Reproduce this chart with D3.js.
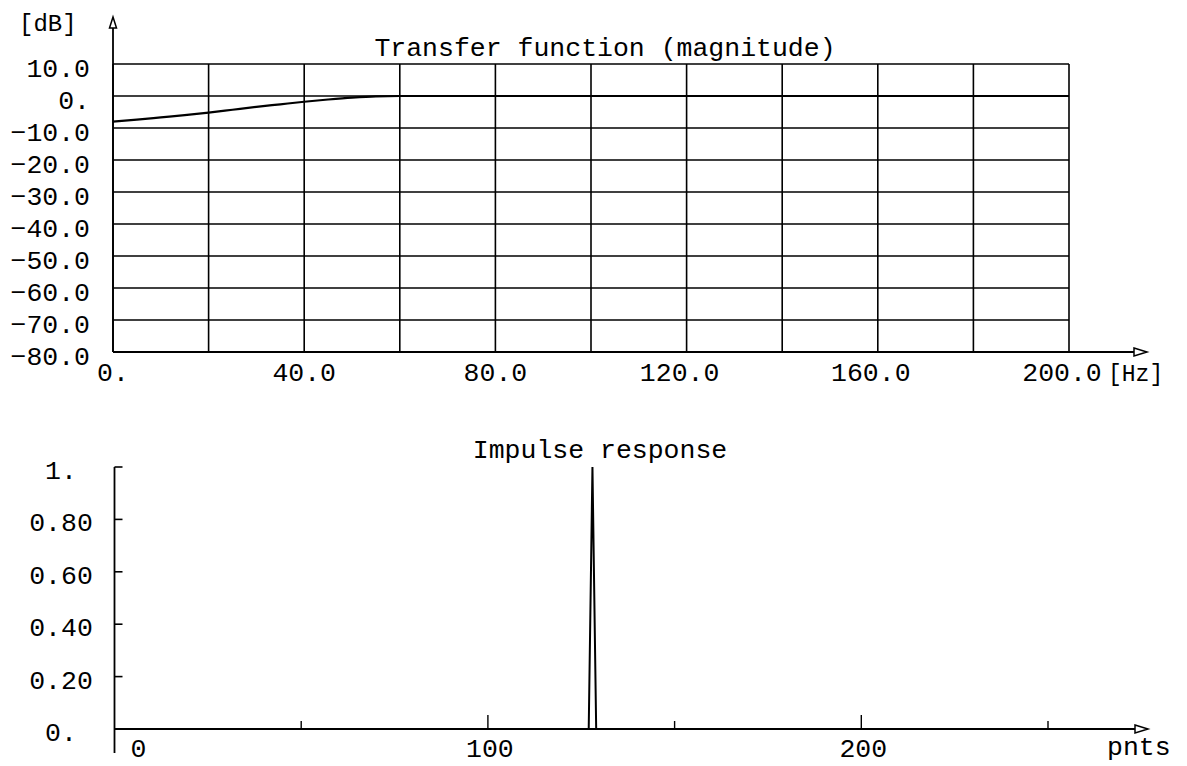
<!DOCTYPE html>
<html>
<head>
<meta charset="utf-8">
<script src="https://cdn.jsdelivr.net/npm/d3@7"></script>
<style>
  html, body { margin: 0; padding: 0; background: #fff; }
  svg { display: block; }
  text { font-family: "Liberation Mono", "DejaVu Sans Mono", monospace; fill: #000; }
</style>
</head>
<body>
<svg id="chart" width="1187" height="766"></svg>
<script>
// ---------- data: transfer function (magnitude) ----------
const freqHz = [0, 5, 10, 15, 20, 25, 30, 35, 40, 45, 50, 55, 60, 80, 100, 120, 140, 160, 180, 200];
const magDb  = [-8.0, -7.4, -6.7, -6.0, -5.2, -4.3, -3.4, -2.6, -1.8, -1.1, -0.5, -0.1, 0, 0, 0, 0, 0, 0, 0, 0];
const dbTicks  = [10, 0, -10, -20, -30, -40, -50, -60, -70, -80];
const dbLabels = ["10.0", "0.", "\u221210.0", "\u221220.0", "\u221230.0", "\u221240.0", "\u221250.0", "\u221260.0", "\u221270.0", "\u221280.0"];
const hzGrid   = [0, 20, 40, 60, 80, 100, 120, 140, 160, 180, 200];
const hzTicks  = [0, 40, 80, 120, 160, 200];
const hzLabels = ["0.", "40.0", "80.0", "120.0", "160.0", "200.0"];

// ---------- data: impulse response ----------
const sampleIdx   = [0, 127, 128, 129, 255];
const impulseVals = [0, 0, 1.0, 0, 0];
const ampTicks  = [0, 0.2, 0.4, 0.6, 0.8, 1.0];
const ampLabels = ["0.", "0.20", "0.40", "0.60", "0.80", "1."];
const pntTicks  = [50, 100, 150, 200, 250];
const pntMajor  = [100, 200];
const pntLabelTicks = [0, 100, 200];
const pntLabels = ["0", "100", "200"];

const svg = d3.select("#chart");
const FS = 26.5;

// ================= TOP CHART =================
const xT = d3.scaleLinear().domain([0, 200]).range([113, 1069]);
const yT = d3.scaleLinear().domain([-80, 10]).range([352, 64]);
const gTop = svg.append("g");

// horizontal grid
gTop.selectAll("line.hg").data(dbTicks).join("line")
  .attr("x1", xT(0)).attr("x2", xT(200))
  .attr("y1", d => yT(d)).attr("y2", d => yT(d))
  .attr("stroke", "#000").attr("stroke-width", 1.6);
// vertical grid
gTop.selectAll("line.vg").data(hzGrid).join("line")
  .attr("x1", d => xT(d)).attr("x2", d => xT(d))
  .attr("y1", yT(10)).attr("y2", yT(-80))
  .attr("stroke", "#000").attr("stroke-width", 1.6);
// y axis with arrow
gTop.append("line").attr("x1", xT(0)).attr("x2", xT(0)).attr("y1", yT(-80)).attr("y2", 19)
  .attr("stroke", "#000").attr("stroke-width", 1.8);
gTop.append("path").attr("d", `M${xT(0)-3.5},28 L${xT(0)},17 L${xT(0)+3.5},28 Z`)
  .attr("fill", "#fff").attr("stroke", "#000").attr("stroke-width", 1.5);
// x axis with arrow
gTop.append("line").attr("x1", xT(0)).attr("x2", 1146).attr("y1", yT(-80)).attr("y2", yT(-80))
  .attr("stroke", "#000").attr("stroke-width", 1.8);
gTop.append("path").attr("d", `M1134,${yT(-80)-4} L1147,${yT(-80)} L1134,${yT(-80)+4} Z`)
  .attr("fill", "#fff").attr("stroke", "#000").attr("stroke-width", 1.5);

// curve
const lineT = d3.line().x((d, i) => xT(freqHz[i])).y(d => yT(d)).curve(d3.curveMonotoneX);
gTop.append("path").datum(magDb).attr("d", lineT)
  .attr("fill", "none").attr("stroke", "#000").attr("stroke-width", 2.2);

// y labels
gTop.selectAll("text.yl").data(dbTicks).join("text")
  .attr("x", 90).attr("y", d => yT(d) + 12.5)
  .attr("text-anchor", "end").attr("font-size", FS)
  .text((d, i) => dbLabels[i]);
// x labels
gTop.selectAll("text.xl").data(hzTicks).join("text")
  .attr("x", d => xT(d) - (d >= 100 ? 7 : 0)).attr("y", 381)
  .attr("text-anchor", "middle").attr("font-size", FS)
  .text((d, i) => hzLabels[i]);
// units + title
gTop.append("text").attr("x", 19).attr("y", 31).attr("font-size", 24).text("[dB]");
gTop.append("text").attr("x", 1108).attr("y", 381).attr("font-size", 23).text("[Hz]");
gTop.append("text").attr("x", 605).attr("y", 56).attr("text-anchor", "middle").attr("font-size", FS)
  .text("Transfer function (magnitude)");

// ================= BOTTOM CHART =================
const xB = d3.scaleLinear().domain([0, 250]).range([114.5, 1048]);
const yB = d3.scaleLinear().domain([0, 1]).range([729, 467]);
const gBot = svg.append("g");

// y axis
gBot.append("line").attr("x1", xB(0)).attr("x2", xB(0)).attr("y1", yB(1)).attr("y2", 753)
  .attr("stroke", "#000").attr("stroke-width", 1.8);
gBot.selectAll("line.yt").data(ampTicks.filter(d => d > 0)).join("line")
  .attr("x1", xB(0)).attr("x2", xB(0) + 8)
  .attr("y1", d => yB(d)).attr("y2", d => yB(d))
  .attr("stroke", "#000").attr("stroke-width", 1.6);
// x axis with arrow
gBot.append("line").attr("x1", xB(0)).attr("x2", 1147).attr("y1", yB(0)).attr("y2", yB(0))
  .attr("stroke", "#000").attr("stroke-width", 1.8);
gBot.append("path").attr("d", `M1135,${yB(0)-4} L1148,${yB(0)} L1135,${yB(0)+4} Z`)
  .attr("fill", "#fff").attr("stroke", "#000").attr("stroke-width", 1.5);
gBot.selectAll("line.xt").data(pntTicks).join("line")
  .attr("x1", d => xB(d)).attr("x2", d => xB(d))
  .attr("y1", yB(0)).attr("y2", d => yB(0) - (pntMajor.includes(d) ? 14 : 8))
  .attr("stroke", "#000").attr("stroke-width", 1.4);

// impulse
const lineB = d3.line().x((d, i) => xB(sampleIdx[i])).y(d => yB(d));
gBot.append("path").datum(impulseVals).attr("d", lineB)
  .attr("fill", "none").attr("stroke", "#000").attr("stroke-width", 2);

// labels
gBot.selectAll("text.yl").data(ampTicks).join("text")
  .attr("x", 61).attr("y", d => yB(d) + 12)
  .attr("text-anchor", "middle").attr("font-size", FS)
  .text((d, i) => ampLabels[i]);
gBot.selectAll("text.xl").data(pntLabelTicks).join("text")
  .attr("x", d => xB(d) + (d === 0 ? 24 : 2)).attr("y", 757)
  .attr("text-anchor", "middle").attr("font-size", FS)
  .text((d, i) => pntLabels[i]);
gBot.append("text").attr("x", 1107).attr("y", 755).attr("font-size", FS).text("pnts");
gBot.append("text").attr("x", 600).attr("y", 458).attr("text-anchor", "middle").attr("font-size", FS)
  .text("Impulse response");
</script>
</body>
</html>
